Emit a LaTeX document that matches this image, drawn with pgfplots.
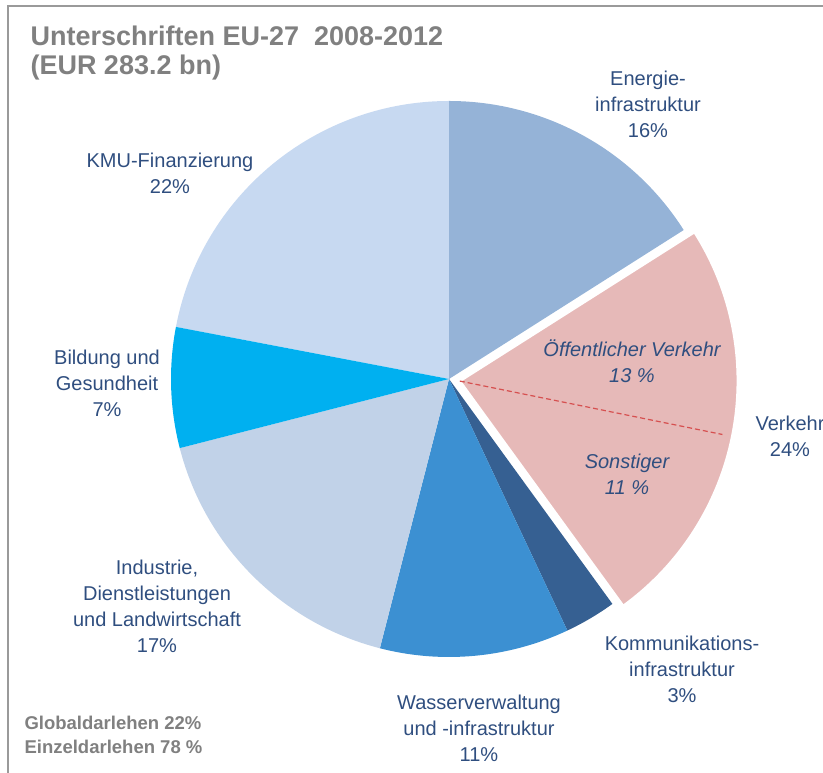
\documentclass[border=0pt]{standalone}
\usepackage{pgfplots}
\pgfplotsset{compat=1.18}
\usepackage{fontspec}
\setmainfont{Liberation Sans}
\definecolor{cEnergie}{RGB}{149,179,215}
\definecolor{cVerkehr}{RGB}{230,185,184}
\definecolor{cKomm}{RGB}{54,96,146}
\definecolor{cWasser}{RGB}{60,144,210}
\definecolor{cIndustrie}{RGB}{193,210,232}
\definecolor{cBildung}{RGB}{0,176,240}
\definecolor{cKMU}{RGB}{199,217,241}
\definecolor{labc}{RGB}{47,78,127}
\definecolor{titc}{RGB}{128,128,128}
\definecolor{dashc}{RGB}{214,80,80}
% pie centre and radius (axis units)
\def\cx{449}\def\cy{394}\def\rr{278}
% slice: start %, end %, colour, explode distance, extra style
\newcommand{\pieslice}[5]{%
  \pgfmathsetmacro\sa{90-3.6*#1}%
  \pgfmathsetmacro\sb{90-3.6*#2}%
  \pgfmathsetmacro\sm{(\sa+\sb)/2}%
  \pgfmathsetmacro\ox{\cx+#4*cos(\sm)}%
  \pgfmathsetmacro\oy{\cy+#4*sin(\sm)}%
  \edef\tmp{\noexpand\path[fill=#3,#5] (axis cs:\ox,\oy) -- ++(\sa:\rr pt) arc[start angle=\sa, end angle=\sb, radius=\rr pt] -- cycle;}%
  \tmp}
\begin{document}
\begin{tikzpicture}
\useasboundingbox (0,0) rectangle (823pt,773pt);
\begin{axis}[hide axis, x=1pt, y=1pt, xmin=0, xmax=823, ymin=0, ymax=773,
  enlargelimits=false, clip=false, anchor=origin, at={(0,0)}]
% frame
\draw[titc!80, line width=1.5pt] (axis cs:8,-5) -- (axis cs:8,767) -- (axis cs:830,767);
% slices (cumulative percentages)
\pieslice{78}{100}{cKMU}{0}{}
\pieslice{0}{16}{cEnergie}{0}{}
\pieslice{40}{43}{cKomm}{0}{}
\pieslice{43}{54}{cWasser}{0}{}
\pieslice{54}{71}{cIndustrie}{0}{}
\pieslice{71}{78}{cBildung}{0}{}
\pieslice{16}{40}{cVerkehr}{11}{draw=white,line width=2.5pt}
\pgfmathsetmacro\dx{\cx+11*cos(-10.8)}
\pgfmathsetmacro\dy{\cy+11*sin(-10.8)}
\edef\tmp{\noexpand\draw[dashc, line width=1.2pt, dash pattern=on 5pt off 3pt] (axis cs:\dx,\dy) -- ++(-11.5:268pt);}\tmp
% title
\node[anchor=base west, text=titc, font=\bfseries\fontsize{27}{31}\selectfont] at (axis cs:27,727) {Unterschriften EU-27~ 2008-2012};
\node[anchor=base west, text=titc, font=\bfseries\fontsize{27}{31}\selectfont] at (axis cs:27,698) {(EUR 283.2 bn)};
% bottom note
\node[anchor=base west, text=titc, font=\bfseries\fontsize{18.5}{24}\selectfont] at (axis cs:21,43) {Globaldarlehen 22\%};
\node[anchor=base west, text=titc, font=\bfseries\fontsize{18.5}{24}\selectfont] at (axis cs:21,19) {Einzeldarlehen 78 \%};
% labels
\tikzset{lab/.style={text=labc, align=center, font=\fontsize{20}{26}\selectfont}}
\node[lab] at (axis cs:648,669) {Energie-\\infrastruktur\\16\%};
\node[lab] at (axis cs:170,600) {KMU-Finanzierung\\22\%};
\node[lab] at (axis cs:107,390) {Bildung und\\Gesundheit\\7\%};
\node[lab] at (axis cs:157,167) {Industrie,\\Dienstleistungen\\und Landwirtschaft\\17\%};
\node[lab] at (axis cs:479,45) {Wasserverwaltung\\und -infrastruktur\\11\%};
\node[lab] at (axis cs:682,104) {Kommunikations-\\infrastruktur\\3\%};
\node[lab] at (axis cs:790,337) {Verkehr\\24\%};
\node[lab, font=\itshape\fontsize{20}{26}\selectfont] at (axis cs:632,412) {Öffentlicher Verkehr\\13 \%};
\node[lab, font=\itshape\fontsize{20}{26}\selectfont] at (axis cs:627,299) {Sonstiger\\11 \%};
\end{axis}
\end{tikzpicture}
\end{document}
